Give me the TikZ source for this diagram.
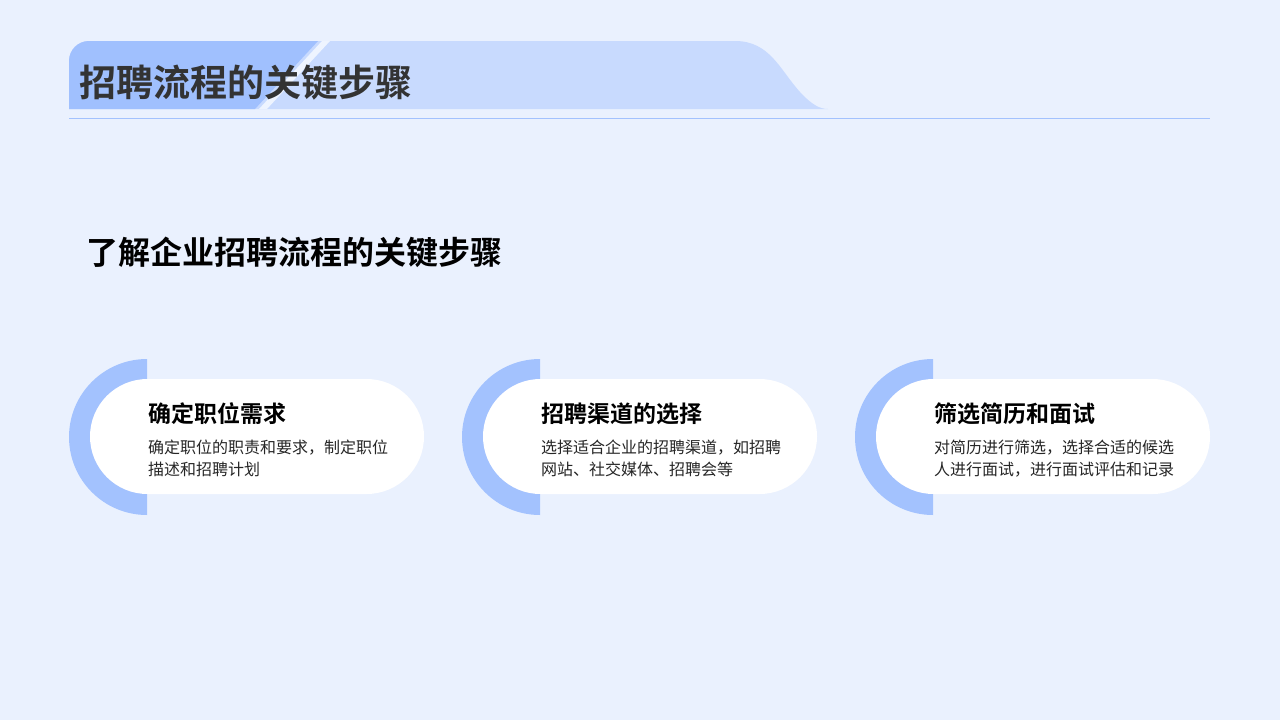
\documentclass[tikz,border=0pt]{standalone}
\usepackage{fontspec}
\newfontfamily\cjk{Noto Sans CJK SC}
\newfontfamily\cjkb{Noto Sans CJK SC Bold}
\definecolor{bg}{HTML}{EAF1FE}
\definecolor{hdark}{HTML}{A0C0FE}
\definecolor{hlight}{HTML}{C8DAFE}
\definecolor{arcc}{HTML}{A3C2FE}
\definecolor{linec}{HTML}{A3C2FE}
\begin{document}
\begin{tikzpicture}[x=1pt,y=-1pt,
  ttl/.style={anchor=west,font=\cjkb\fontsize{23}{26}\selectfont,text=black,inner sep=0},
  desc/.style={anchor=north west,font=\cjk\fontsize{16}{22}\selectfont,text=black!85,inner sep=0,align=left}]
\fill[bg] (0,0) rectangle (1280,720);
\useasboundingbox (0,0) rectangle (1280,720);
% header
\fill[hlight] (69,109) -- (69,61) arc[start angle=180,end angle=270,radius=20] -- (735,41)
  .. controls (770,41) and (780,70) .. (800,92) .. controls (812,105) and (820,109) .. (828,109) -- cycle;
\fill[hdark] (69,109) -- (69,61) arc[start angle=180,end angle=270,radius=20] -- (318,41) -- (255,109) -- cycle;
\fill[white!70!hlight] (322,41) -- (330,41) -- (267,109) -- (259,109) -- cycle;
\draw[linec,line width=1] (69,118) -- (1210,118);
\node[anchor=west,inner sep=0,font=\cjkb\fontsize{37}{40}\selectfont,text=black!80] (h) at (79,83) {招聘流程的关键步骤};
\node[anchor=west,inner sep=0,font=\cjkb\fontsize{32}{36}\selectfont,text=black] (s) at (86,252) {了解企业招聘流程的关键步骤};
% cards
\foreach \dx/\t/\a/\b [count=\i] in {0/确定职位需求/确定职位的职责和要求，制定职位/描述和招聘计划,
  393/招聘渠道的选择/选择适合企业的招聘渠道，如招聘/网站、社交媒体、招聘会等,
  786/筛选简历和面试/对简历进行筛选，选择合适的候选/人进行面试，进行面试评估和记录}{
  \begin{scope}[xshift=\dx]
  \fill[arcc] (147,359) arc[start angle=270,end angle=90,radius=78] -- cycle;
  \fill[white,rounded corners=57.5] (90,379) rectangle (424,494);
  \node[ttl] (t\i) at (148,414) {\t};
  \node[desc] (d\i) at (148,440) {\a\\\b};
  \end{scope}}
\end{tikzpicture}
\end{document}
